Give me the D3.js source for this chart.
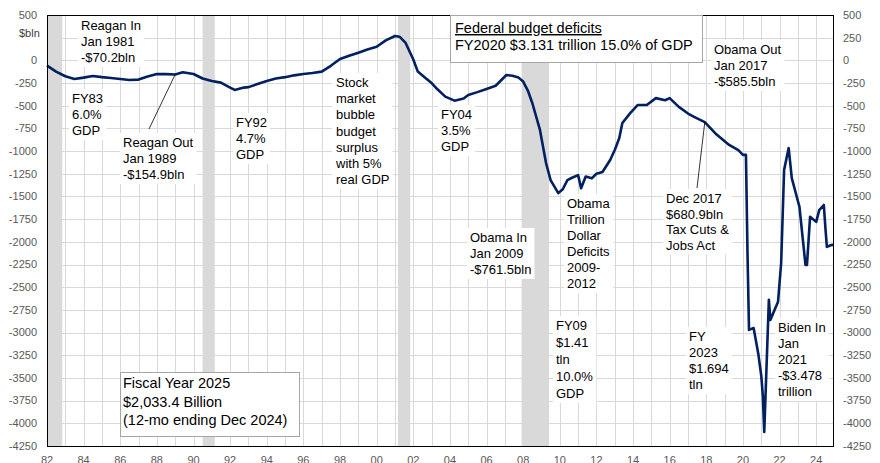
<!DOCTYPE html>
<html>
<head>
<meta charset="utf-8">
<script src="https://cdn.jsdelivr.net/npm/d3@7"></script>
<style>
  body { margin: 0; background: #fff; }
  text { font-family: "Liberation Sans", Arial, sans-serif; }
</style>
</head>
<body>
<svg id="chart" width="880" height="463"></svg>
<script>
/*
 * Federal budget deficit, rolling 12-month sum in $bln, Jan 1982 - Dec 2024.
 */

// Months (YYYY-MM) and the 12-month deficit at each.
var months = [
  "1982-01", "1982-07", "1983-01", "1983-07", "1984-01", "1984-07", "1985-01", "1985-07",
  "1986-01", "1986-07", "1987-01", "1987-07", "1988-01", "1988-07", "1989-01", "1989-06",
  "1990-01", "1990-07", "1991-01", "1991-07", "1992-01", "1992-04", "1992-10", "1993-01",
  "1993-07", "1994-01", "1994-07", "1995-01", "1995-07", "1996-01", "1996-07", "1997-01",
  "1997-07", "1998-01", "1998-07", "1999-01", "1999-07", "2000-01", "2000-07", "2001-01",
  "2001-04", "2001-08", "2002-01", "2002-04", "2002-08", "2003-01", "2003-04", "2003-10",
  "2004-04", "2004-10", "2005-01", "2005-07", "2006-01", "2006-07", "2007-02", "2007-06",
  "2007-10", "2008-01", "2008-04", "2008-07", "2008-12", "2009-04", "2009-07", "2009-12",
  "2010-03", "2010-06", "2010-09", "2011-01", "2011-03", "2011-06", "2011-10", "2012-01",
  "2012-05", "2012-10", "2013-01", "2013-04", "2013-06", "2013-11", "2014-04", "2014-10",
  "2015-04", "2015-10", "2016-01", "2016-07", "2017-01", "2017-05", "2017-12", "2018-07",
  "2019-04", "2019-10", "2020-01", "2020-03", "2020-04", "2020-05", "2020-08", "2020-11",
  "2021-01", "2021-02", "2021-03", "2021-06", "2021-07", "2021-12", "2022-02", "2022-04",
  "2022-07", "2022-09", "2023-02", "2023-06", "2023-07", "2023-09", "2024-01", "2024-03",
  "2024-06", "2024-07", "2024-08", "2024-11", "2024-12"
];
var deficit = [
  -58, -124, -175, -205, -190, -172, -185, -195,
  -205, -216, -212, -178, -150, -152, -155, -131,
  -150, -200, -228, -245, -300, -326, -300, -295,
  -260, -227, -200, -185, -165, -150, -140, -124,
  -60, 15, 50, 85, 120, 150, 220, 269,
  261, 192, 10, -124, -180, -250, -304, -400,
  -444, -420, -381, -350, -315, -280, -161, -170,
  -190, -234, -330, -470, -767, -1131, -1320, -1463,
  -1420, -1320, -1294, -1265, -1410, -1280, -1300, -1250,
  -1230, -1098, -987, -856, -690, -584, -492, -492,
  -416, -440, -416, -512, -586, -622, -681, -805,
  -932, -990, -1042, -1042, -2124, -2970, -2950, -3230,
  -3478, -3700, -4095, -2640, -2860, -2660, -2233, -1207,
  -966, -1297, -1614, -2254, -2254, -1723, -1780, -1650,
  -1594, -1835, -2055, -2035, -2033
];

// NBER recessions (shaded)
var recessions = [
  ["1982-01", "1982-11"],
  ["1990-07", "1991-03"],
  ["2001-03", "2001-11"],
  ["2007-12", "2009-06"]
];

var yTicks = d3.range(-4250, 501, 250);
var xTickYears = d3.range(1982, 2025, 2);

var annotations = [
  {lines: ["Reagan In", "Jan 1981", "-$70.2bln"], x: 81, y: 30, lh: 16},
  {lines: ["FY83", "6.0%", "GDP"], x: 72, y: 103, lh: 16},
  {lines: ["Reagan Out", "Jan 1989", "-$154.9bln"], x: 123, y: 147, lh: 16},
  {lines: ["FY92", "4.7%", "GDP"], x: 236, y: 127, lh: 16},
  {lines: ["Stock", "market", "bubble", "budget", "surplus", "with 5%", "real GDP"], x: 336, y: 87, lh: 16.2},
  {lines: ["FY04", "3.5%", "GDP"], x: 441, y: 119, lh: 16},
  {lines: ["Obama Out", "Jan 2017", "-$585.5bln"], x: 714, y: 54, lh: 16},
  {lines: ["Obama In", "Jan 2009", "-$761.5bln"], x: 470, y: 242, lh: 16},
  {lines: ["Obama", "Trillion", "Dollar", "Deficits", "2009-", "2012"], x: 567, y: 208, lh: 16},
  {lines: ["Dec 2017", "$680.9bln", "Tax Cuts &", "Jobs Act"], x: 666, y: 203, lh: 15.5},
  {lines: ["FY09", "$1.41", "tln", "10.0%", "GDP"], x: 556, y: 330, lh: 17},
  {lines: ["FY", "2023", "$1.694", "tln"], x: 689, y: 341, lh: 16},
  {lines: ["Biden In", "Jan", "2021", "-$3.478", "trillion"], x: 778, y: 332, lh: 16}
];

var parseMonth = d3.timeParse("%Y-%m");
var data = months.map(function(m, i) {
  return {date: parseMonth(m), value: deficit[i]};
});

var svg = d3.select("#chart"),
  margin = {top: 15, right: 47, bottom: 17, left: 47},
  width = svg.attr("width") - margin.left - margin.right,
  height = svg.attr("height") - margin.top - margin.bottom;

var x = d3.scaleTime()
  .domain([parseMonth("1982-01"), parseMonth("2024-12")])
  .range([margin.left, margin.left + width]);
var y = d3.scaleLinear()
  .domain([-4250, 500])
  .range([margin.top + height, margin.top]);

var g = svg.append("g");

// recession shading
g.selectAll(".rec")
  .data(recessions)
  .enter()
  .append("rect")
    .attr("x", function(d) { return x(parseMonth(d[0])); })
    .attr("y", margin.top)
    .attr("width", function(d) { return x(parseMonth(d[1])) - x(parseMonth(d[0])); })
    .attr("height", height)
    .attr("fill", "#d9d9d9");

// gridlines
var yearLines = d3.range(1983, 2025).map(function(yr) { return new Date(yr, 0, 1); });
g.selectAll(".vgrid")
  .data(yearLines)
  .enter()
  .append("line")
    .attr("x1", function(d) { return Math.round(x(d)) + 0.5; })
    .attr("x2", function(d) { return Math.round(x(d)) + 0.5; })
    .attr("y1", margin.top)
    .attr("y2", margin.top + height)
    .attr("stroke", "#d9d9d9")
    .attr("stroke-width", 1);
g.selectAll(".hgrid")
  .data(yTicks.slice(1, -1))
  .enter()
  .append("line")
    .attr("x1", margin.left)
    .attr("x2", margin.left + width)
    .attr("y1", function(d) { return Math.round(y(d)) + 0.5; })
    .attr("y2", function(d) { return Math.round(y(d)) + 0.5; })
    .attr("stroke", "#d9d9d9")
    .attr("stroke-width", 1);

// the deficit line
var line = d3.line()
  .x(function(d) { return x(d.date); })
  .y(function(d) { return y(d.value); });
g.append("path")
  .datum(data)
  .attr("d", line)
  .attr("fill", "none")
  .attr("stroke", "#002060")
  .attr("stroke-width", 2.6)
  .attr("stroke-linejoin", "round");

// frame
g.append("rect")
  .attr("x", margin.left + 0.5)
  .attr("y", margin.top + 0.5)
  .attr("width", width)
  .attr("height", height)
  .attr("fill", "none")
  .attr("stroke", "#000")
  .attr("stroke-width", 1);

// Y axis labels, both sides (the left one gives its 250 slot to "$bln")
var yl = svg.append("g").attr("font-size", 11).attr("fill", "#595959");
yl.selectAll(".yl")
  .data(yTicks.filter(function(d) { return d !== 250; }))
  .enter()
  .append("text")
    .attr("x", margin.left - 10)
    .attr("y", function(d) { return y(d); })
    .attr("dy", "0.35em")
    .attr("text-anchor", "end")
    .text(function(d) { return d; });
yl.selectAll(".yr")
  .data(yTicks)
  .enter()
  .append("text")
    .attr("x", margin.left + width + 10)
    .attr("y", function(d) { return y(d); })
    .attr("dy", "0.35em")
    .attr("text-anchor", "start")
    .text(function(d) { return d; });
svg.append("text")
  .attr("x", 19)
  .attr("y", 37)
  .attr("font-size", 11)
  .attr("fill", "#404040")
  .text("$bln");

// X axis labels
svg.append("g").attr("font-size", 11).attr("fill", "#595959")
  .selectAll("text")
  .data(xTickYears)
  .enter()
  .append("text")
    .attr("x", function(d) { return x(new Date(d, 0, 1)); })
    .attr("y", 464)
    .attr("text-anchor", "middle")
    .text(function(d) { return d3.format("02")(d % 100); });

// leader lines from the notes to the line
var leaders = [
  {from: [149, 129], month: "1989-01", value: -154.9},
  {from: [697, 188], month: "2017-12", value: -680.9}
];
svg.selectAll(".leader")
  .data(leaders)
  .enter()
  .append("line")
    .attr("x1", function(d) { return d.from[0]; })
    .attr("y1", function(d) { return d.from[1]; })
    .attr("x2", function(d) { return x(parseMonth(d.month)); })
    .attr("y2", function(d) { return y(d.value); })
    .attr("stroke", "#000")
    .attr("stroke-width", 0.8);

// text notes on white
function addNote(a, size) {
  var ng = svg.append("g");
  var bg = ng.append("rect").attr("fill", "#fff");
  var t = ng.append("text")
    .attr("font-size", size)
    .attr("fill", "#000");
  a.lines.forEach(function(s, i) {
    t.append("tspan").attr("x", a.x).attr("y", a.y + i * a.lh).text(s);
  });
  var bb = t.node().getBBox();
  bg.attr("x", bb.x - 3).attr("y", bb.y - 2)
    .attr("width", bb.width + 6).attr("height", bb.height + 4);
  return ng;
}
annotations.forEach(function(a) { addNote(a, 13); });

// title box
var tb = svg.append("g");
tb.append("rect")
  .attr("x", 450.5).attr("y", 15.5).attr("width", 252).attr("height", 47)
  .attr("fill", "#fff").attr("stroke", "#a6a6a6");
var tt = tb.append("text").attr("font-size", 14.5).attr("fill", "#000");
tt.append("tspan").attr("x", 455).attr("y", 33)
  .attr("text-decoration", "underline").text("Federal budget deficits");
tt.append("tspan").attr("x", 455).attr("y", 50)
  .text("FY2020 $3.131 trillion 15.0% of GDP");

// fiscal year box
var fb = svg.append("g");
fb.append("rect")
  .attr("x", 120.5).attr("y", 372.5).attr("width", 179).attr("height", 64)
  .attr("fill", "#fff").attr("stroke", "#a6a6a6");
var ft = fb.append("text").attr("font-size", 14.5).attr("fill", "#000");
["Fiscal Year 2025", "$2,033.4 Billion", "(12-mo ending Dec 2024)"].forEach(function(s, i) {
  ft.append("tspan").attr("x", 123).attr("y", 388 + i * 18.5).text(s);
});
</script>
</body>
</html>
